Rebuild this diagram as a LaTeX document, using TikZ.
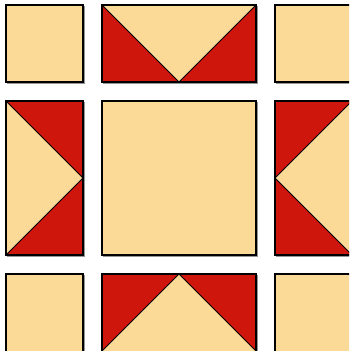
\documentclass[tikz,border=0pt]{standalone}
\definecolor{cream}{RGB}{250,218,150}
\definecolor{quiltred}{RGB}{206,22,12}
\definecolor{shadowgray}{RGB}{150,150,150}
\begin{document}
\begin{tikzpicture}[x=1pt,y=-1pt,
  patch/.style={fill=cream,draw=black,line width=1.6pt},
  redtri/.style={fill=quiltred},
  seam/.style={draw=black,line width=1pt},
  frame/.style={draw=black,line width=1.6pt},
  shade/.style={draw=shadowgray,line width=1.2pt}]
\useasboundingbox (0,0) rectangle (349,351);
\clip (0,0) rectangle (349,351);
\fill[white] (0,0) rectangle (349,351);
% shadows
\foreach \a/\b/\c/\d in {6/5/83/82, 275/5/353/82, 6/274/83/353, 275/274/353/353,
  102/101/256/255, 102/5/256/82, 102/274/256/353, 6/101/83/255, 275/101/353/255}
  \draw[shade] (\a+1.5,\b+1.5) rectangle (\c+1.5,\d+1.5);
% corner squares
\path[patch] (6,5) rectangle (83,82);
\path[patch] (275,5) rectangle (353,82);
\path[patch] (6,274) rectangle (83,353);
\path[patch] (275,274) rectangle (353,353);
% centre
\path[patch] (102,101) rectangle (256,255);
% top flying geese
\fill[cream] (102,5) rectangle (256,82);
\fill[redtri] (102,5) -- (179,82) -- (102,82) -- cycle;
\fill[redtri] (256,5) -- (179,82) -- (256,82) -- cycle;
\draw[seam] (102,5) -- (179,82) -- (256,5);
\draw[frame] (102,5) rectangle (256,82);
% bottom flying geese
\fill[cream] (102,274) rectangle (256,351);
\fill[redtri] (102,274) -- (179,274) -- (102,351) -- cycle;
\fill[redtri] (256,274) -- (179,274) -- (256,351) -- cycle;
\draw[seam] (102,351) -- (179,274) -- (256,351);
\draw[frame] (102,274) rectangle (256,353);
% left flying geese
\fill[cream] (6,101) rectangle (83,255);
\fill[redtri] (6,101) -- (83,101) -- (83,178) -- cycle;
\fill[redtri] (6,255) -- (83,255) -- (83,178) -- cycle;
\draw[seam] (6,101) -- (83,178) -- (6,255);
\draw[frame] (6,101) rectangle (83,255);
% right flying geese
\fill[cream] (275,101) rectangle (352,255);
\fill[redtri] (275,101) -- (352,101) -- (275,178) -- cycle;
\fill[redtri] (275,255) -- (352,255) -- (275,178) -- cycle;
\draw[seam] (352,101) -- (275,178) -- (352,255);
\draw[frame] (275,101) rectangle (353,255);
\end{tikzpicture}
\end{document}
